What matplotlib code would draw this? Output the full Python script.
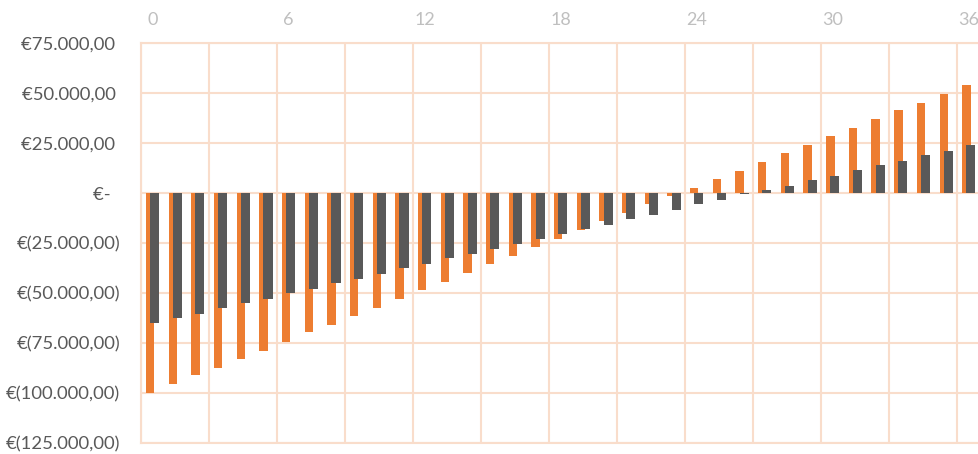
import numpy as np
import matplotlib.pyplot as plt
from matplotlib.ticker import FuncFormatter

# monthly values
months = np.arange(0, 37)
orange_vals = [-100000, -95700, -91200, -87300, -82800, -78800, -74300, -69700, -65800,
               -61300, -57500, -53000, -48500, -44700, -40200, -35500, -31700, -27000,
               -23200, -18500, -14200, -10200, -5700, -1300, 2500, 7000, 11000, 15500,
               20000, 23800, 28300, 32300, 36800, 41300, 45200, 49700, 54200]
grey_vals = [-64800, -62700, -60300, -57500, -55200, -53000, -50200, -48000, -45200,
             -42800, -40500, -37700, -35500, -32700, -30300, -28200, -25500, -23200,
             -20300, -18200, -15800, -13000, -10800, -8500, -5700, -3500, -700, 1300,
             3700, 6500, 8700, 11500, 13800, 16000, 18800, 21200, 24000]
top_ticks = [0, 6, 12, 18, 24, 30, 36]
y_ticks = [75000, 50000, 25000, 0, -25000, -50000, -75000, -100000, -125000]

grid_col = '#F9DDCB'


def euro(v, pos=None):
    if v == 0:
        return '€-  '
    s = f'{abs(v):,.2f}'.replace(',', 'X').replace('.', ',').replace('X', '.')
    if v < 0:
        return f'€({s})'
    return f'€{s} '


plt.rcParams['font.family'] = ['Lato', 'DejaVu Sans']
fig = plt.figure(figsize=(9.79, 4.54), dpi=100)
ax = fig.add_axes([141 / 979, 1 - 443 / 454, 1 - 141 / 979 + 0.001, 400 / 454])

ax.bar(months - 0.1, orange_vals, width=0.37, color='#ED7D31', zorder=3)
ax.bar(months + 0.1, grey_vals, width=0.4, color='#595959', zorder=4)

ax.set_xlim(-0.5, 36.5)
ax.set_ylim(-125000, 75000)

ax.xaxis.tick_top()
ax.set_xticks(top_ticks)
ax.set_xticklabels([str(t) for t in top_ticks])
ax.set_xticks(np.arange(-0.5, 37, 3), minor=True)
ax.tick_params(axis='x', which='both', length=0, pad=11, labelsize=13, labelcolor='#BFBFBF')
ax.grid(True, axis='x', which='minor', color=grid_col, linewidth=1.5, zorder=0)

ax.set_yticks(y_ticks)
ax.yaxis.set_major_formatter(FuncFormatter(euro))
ax.tick_params(axis='y', length=0, pad=15, labelsize=13.3, labelcolor='#595959')
ax.grid(True, axis='y', which='major', color=grid_col, linewidth=1.5, zorder=0)

for side in ['left', 'right', 'top', 'bottom']:
    ax.spines[side].set_color(grid_col)
    ax.spines[side].set_linewidth(1.5)
ax.spines['right'].set_visible(False)

fig.savefig('out.png', dpi=100)
